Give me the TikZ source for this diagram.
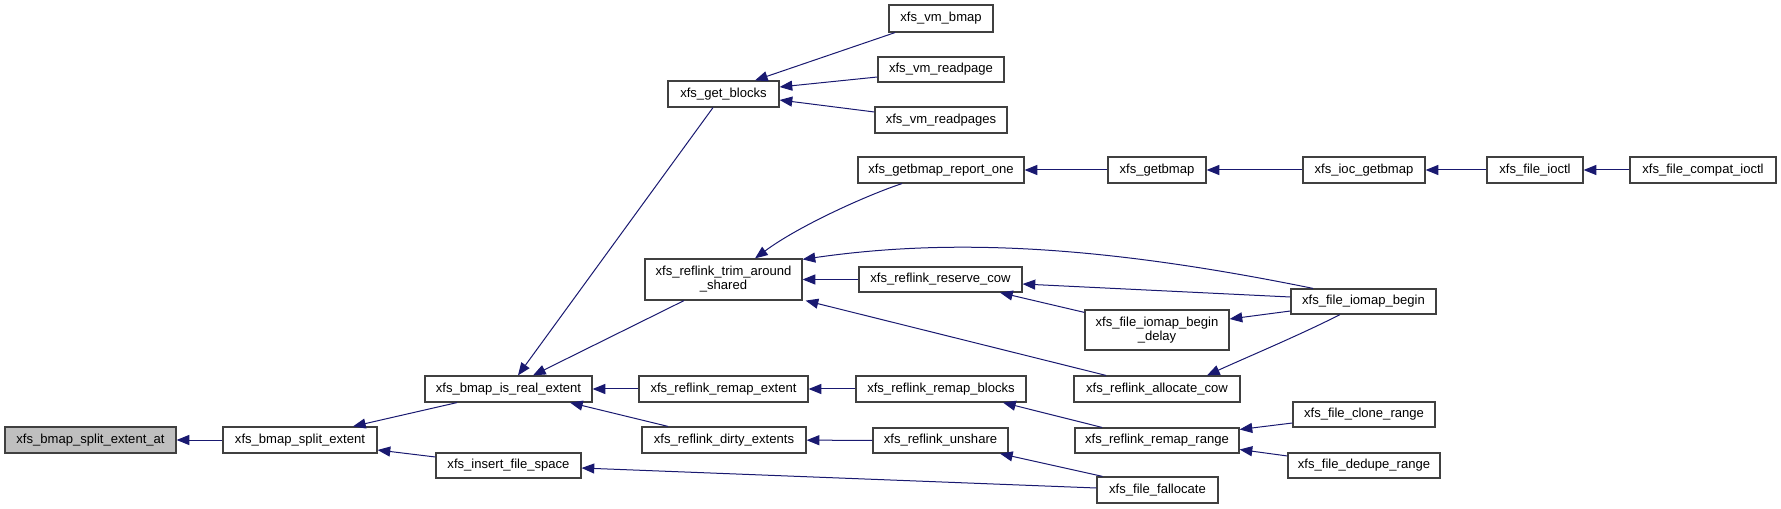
\documentclass[tikz,border=0pt]{standalone}
\usepackage{fontspec}
\setmainfont{Liberation Sans}
\usetikzlibrary{arrows.meta,calc}
\definecolor{edgecol}{HTML}{191970}
\definecolor{boxcol}{HTML}{404040}
\definecolor{rootfill}{HTML}{BFBFBF}
\tikzset{
  fn/.style={draw=boxcol, line width=0.9pt, fill=white, inner sep=0pt, align=center,
    font=\fontsize{9.8}{10.5}\selectfont, text=black},
  rootfn/.style={fn, fill=rootfill},
  call/.style={draw=edgecol, line width=0.75pt, -{Triangle[length=9.5pt,width=7.5pt]}},
}
\newcommand\fnode[7][fn]{\node[#1, minimum width={#5*0.75pt}, minimum height={#6*0.75pt}] (#2) at (#3,#4) {#7};}
\begin{document}
\begin{tikzpicture}[x=0.75pt,y=-0.75pt]
\useasboundingbox (0,0) rectangle (1781,509);
% nodes
\fnode[rootfn]{sat}{90.5}{440}{171}{26}{xfs\_bmap\_split\_extent\_at}
\fnode{sext}{300}{440}{154}{26}{xfs\_bmap\_split\_extent}
\fnode{ire}{508.5}{389}{167}{26}{xfs\_bmap\_is\_real\_extent}
\fnode{ifs}{508.5}{465.5}{145}{25}{xfs\_insert\_file\_space}
\fnode{gb}{723.5}{94}{111}{26}{xfs\_get\_blocks}
\fnode{trim}{723.5}{279.5}{157}{41}{xfs\_reflink\_trim\_around\\\_shared}
\fnode{rext}{723.5}{389}{169}{26}{xfs\_reflink\_remap\_extent}
\fnode{dirty}{724}{440}{164}{26}{xfs\_reflink\_dirty\_extents}
\fnode{vbmap}{941}{18.5}{104}{27}{xfs\_vm\_bmap}
\fnode{vrp}{941}{69.5}{126}{25}{xfs\_vm\_readpage}
\fnode{vrps}{941}{120}{132}{26}{xfs\_vm\_readpages}
\fnode{rone}{941}{170}{166}{26}{xfs\_getbmap\_report\_one}
\fnode{gbm}{1157}{170}{98}{26}{xfs\_getbmap}
\fnode{iocg}{1364}{170}{122}{26}{xfs\_ioc\_getbmap}
\fnode{fioctl}{1535}{170}{96}{26}{xfs\_file\_ioctl}
\fnode{cioctl}{1703}{170}{146}{26}{xfs\_file\_compat\_ioctl}
\fnode{rcow}{940.5}{279.5}{163}{25}{xfs\_reflink\_reserve\_cow}
\fnode{ib}{1363.5}{301.5}{145}{25}{xfs\_file\_iomap\_begin}
\fnode{delay}{1157}{330}{144}{40}{xfs\_file\_iomap\_begin\\\_delay}
\fnode{acow}{1157}{389}{166}{26}{xfs\_reflink\_allocate\_cow}
\fnode{rblk}{941}{389}{170}{26}{xfs\_reflink\_remap\_blocks}
\fnode{unsh}{940.5}{440.5}{135}{25}{xfs\_reflink\_unshare}
\fnode{rrng}{1157}{440.5}{164}{25}{xfs\_reflink\_remap\_range}
\fnode{fall}{1157.5}{490}{121}{26}{xfs\_file\_fallocate}
\fnode{clone}{1364}{414.5}{142}{25}{xfs\_file\_clone\_range}
\fnode{dedup}{1364}{465.5}{152}{25}{xfs\_file\_dedupe\_range}
% edges (caller -> callee)
\draw[call] (sext) -- (sat);
\draw[call] ($(ire.south)+(-51.5,0)$) -- ($(sext.north)+(53,0)$);
\draw[call] ($(ifs.west)+(0,-8.5)$) -- ($(sext.east)+(0,10)$);
\draw[call] ($(gb.south)+(-10.5,0)$) -- ($(ire.north)+(9.5,0)$);
\draw[call] ($(trim.south)+(-39.5,0)$) -- ($(ire.north)+(24.5,0)$);
\draw[call] (rext) -- (ire);
\draw[call] ($(dirty.north)+(-56,0)$) -- ($(ire.south)+(61.5,0)$);
\draw[call] ($(vbmap.south)+(-46,0)$) -- ($(gb.north)+(31.5,0)$);
\draw[call] ($(vrp.west)+(0,7.5)$) -- ($(gb.east)+(0,-7)$);
\draw[call] ($(vrps.west)+(0,-8)$) -- ($(gb.east)+(0,6)$);
\draw[call] ($(rone.south)+(-39,0)$) .. controls (870,194) and (800,225) .. ($(trim.north)+(31.5,0)$);
\draw[call] (rcow) -- (trim);
\draw[call] ($(ib.north)+(-50.5,0)$) .. controls (1100,245) and (950,238) .. ($(trim.north east)+(0,1)$);
\draw[call] ($(acow.north)+(-51,0)$) -- ($(trim.south east)+(3,0)$);
\draw[call] (gbm) -- (rone);
\draw[call] (iocg) -- (gbm);
\draw[call] (fioctl) -- (iocg);
\draw[call] (cioctl) -- (fioctl);
\draw[call] ($(ib.west)+(0,-4.5)$) -- ($(rcow.east)+(0,4.5)$);
\draw[call] ($(delay.north west)+(0,3)$) -- ($(rcow.south)+(59.5,0)$);
\draw[call] ($(ib.west)+(0,9.5)$) -- ($(delay.east)+(0,-11)$);
\draw[call] ($(ib.south)+(-23.5,0)$) .. controls (1300,335) and (1245,358) .. ($(acow.north)+(50,0)$);
\draw[call] (rblk) -- (rext);
\draw[call] ($(rrng.north)+(-55,0)$) -- ($(rblk.south)+(62,0)$);
\draw[call] ($(clone.west)+(0,8.5)$) -- ($(rrng.east)+(0,-11)$);
\draw[call] ($(dedup.west)+(0,-9.5)$) -- ($(rrng.east)+(0,9)$);
\draw[call] (unsh) -- (dirty);
\draw[call] ($(fall.north)+(-55,0)$) -- ($(unsh.south)+(59.5,0)$);
\draw[call] ($(fall.west)+(0,-2)$) -- ($(ifs.east)+(0,2.5)$);
\end{tikzpicture}
\end{document}
